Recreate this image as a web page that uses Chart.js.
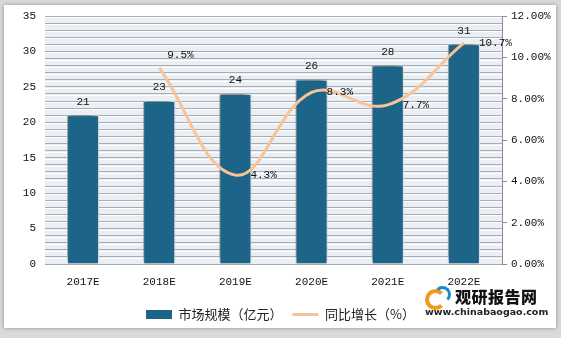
<!DOCTYPE html>
<html>
<head>
<meta charset="utf-8">
<script src="https://cdn.jsdelivr.net/npm/chart.js@4/dist/chart.umd.min.js"></script>
<style>
  html, body { margin: 0; padding: 0; }
  body { width: 561px; height: 338px; background: #d9d9d9; position: relative; overflow: hidden; }
  #card { position: absolute; left: 4px; top: 5px; width: 552px; height: 323px; background: #fff; box-shadow: 0 0 4px rgba(0,0,0,0.35); }
  #wrap { position: absolute; left: 0; top: 0; width: 561px; height: 338px; }
  #mark { position: absolute; left: 425px; top: 285px; width: 130px; height: 36px; font-family: "Noto Sans CJK SC", sans-serif; white-space: nowrap; }
  #mark .logo { position: absolute; left: 0; top: 1px; width: 26px; height: 20px; }
  #mark .logo i { position: absolute; border-radius: 50%; border-style: solid; }
  #mark .cn { position: absolute; left: 30px; top: 0; font-size: 16px; font-weight: 900; color: #111; letter-spacing: 0.5px; line-height: 22px; }
  #mark .en { position: absolute; left: 0; top: 21px; font-size: 9.5px; font-weight: 700; color: #222; font-family: "DejaVu Sans", sans-serif; line-height: 12px; }
</style>
</head>
<body>
<div id="card"></div>
<div id="wrap"><canvas id="marketChart" width="561" height="338"></canvas></div>
<div id="mark">
  <div class="logo">
    <i style="left:0;top:3px;width:13px;height:13px;border-width:4px;border-color:#f39a1e transparent #f39a1e #f39a1e;"></i>
    <i style="left:9px;top:0;width:11px;height:11px;border-width:3px;border-color:#1a8ad0 #1a8ad0 transparent transparent;"></i>
  </div>
  <div class="cn">观研报告网</div>
  <div class="en">www.chinabaogao.com</div>
</div>
<script>
// 数据
const years = ['2017E', '2018E', '2019E', '2020E', '2021E', '2022E'];
const marketSize = [21, 23, 24, 26, 28, 31];           // 市场规模（亿元）
const growthRate = [null, 9.5, 4.3, 8.3, 7.7, 10.7];   // 同比增长（%）

const numFont = { family: '"Liberation Mono", "DejaVu Sans Mono", monospace', size: 11 };

// 绘图区背景 + 白色网格高光 + 柱阴影 + 数值标签
const decorPlugin = {
    id: 'decor',
    beforeDraw(chart) {
        const { ctx, chartArea: a } = chart;
        ctx.save();
        ctx.fillStyle = '#e9eff5';
        ctx.fillRect(a.left, a.top, a.right - a.left, a.bottom - a.top);
        const y = chart.scales.y;
        ctx.strokeStyle = '#ffffff';
        ctx.lineWidth = 1;
        y.ticks.forEach(t => {
            const py = Math.round(y.getPixelForValue(t.value)) + 1.5;
            if (py < a.bottom) {
                ctx.beginPath();
                ctx.moveTo(a.left, py);
                ctx.lineTo(a.right, py);
                ctx.stroke();
            }
        });
        ctx.restore();
    },
    beforeDatasetDraw(chart, args) {
        if (args.index === 0) {
            const ctx = chart.ctx;
            ctx.save();
            ctx.shadowColor = 'rgba(0,0,0,0.6)';
            ctx.shadowBlur = 7;
            ctx.shadowOffsetX = -2;
            ctx.shadowOffsetY = -3;
        }
    },
    afterDatasetDraw(chart, args) {
        if (args.index === 0) chart.ctx.restore();
    },
    afterDatasetsDraw(chart) {
        const ctx = chart.ctx;
        ctx.save();
        ctx.font = numFont.size + 'px ' + numFont.family;
        ctx.fillStyle = '#111';
        chart.getDatasetMeta(0).data.forEach((bar, i) => {
            ctx.textAlign = 'center';
            ctx.textBaseline = 'bottom';
            ctx.fillText(String(marketSize[i]), bar.x, bar.y - 8);
        });
        chart.getDatasetMeta(1).data.forEach((pt, i) => {
            if (growthRate[i] == null) return;
            ctx.textBaseline = 'middle';
            ctx.textAlign = 'left';
            if (i === 1) {
                ctx.fillText(growthRate[i].toFixed(1) + '%', pt.x + 8, pt.y - 13);
            } else {
                ctx.fillText(growthRate[i].toFixed(1) + '%', pt.x + 15, pt.y);
            }
        });
        ctx.restore();
    }
};

const ctx = document.getElementById('marketChart').getContext('2d');
const marketChart = new Chart(ctx, {
    data: {
        labels: years,
        datasets: [{
            type: 'bar',
            label: '市场规模（亿元）',
            data: marketSize,
            backgroundColor: '#1c6588',
            borderColor: '#ffffff',
            borderWidth: 1,
            barPercentage: 0.42,
            categoryPercentage: 1,
            yAxisID: 'y',
            order: 2
        }, {
            type: 'line',
            label: '同比增长（%）',
            data: growthRate,
            borderColor: '#f9c398',
            backgroundColor: '#f9c398',
            borderWidth: 3,
            tension: 0.4,
            pointRadius: 0,
            spanGaps: false,
            yAxisID: 'y1',
            order: 1
        }]
    },
    options: {
        responsive: false,
        animation: false,
        devicePixelRatio: 1,
        layout: { padding: { top: 16, left: 0, right: 0, bottom: 7 } },
        scales: {
            x: {
                grid: { display: false },
                border: { display: true, color: '#a6a6a6' },
                ticks: { color: '#111', font: numFont, padding: 3 },
                afterFit(scale) { scale.height = 34; }
            },
            y: {
                min: 0,
                max: 35,
                position: 'left',
                grid: { color: '#a9adb1', lineWidth: 1, drawTicks: false },
                border: { display: false },
                ticks: {
                    stepSize: 1,
                    autoSkip: false,
                    maxTicksLimit: 50,
                    padding: 9,
                    color: '#111',
                    font: numFont,
                    callback: v => (v % 5 === 0 ? String(v) : ' ')
                },
                afterFit(scale) { scale.width = 45; }
            },
            y1: {
                min: 0,
                max: 12,
                position: 'right',
                grid: { drawOnChartArea: false, color: '#8c8c8c', tickLength: 5 },
                border: { display: true, color: '#8c8c8c' },
                ticks: {
                    stepSize: 2,
                    padding: 4,
                    color: '#111',
                    font: numFont,
                    callback: v => v.toFixed(2) + '%'
                },
                afterFit(scale) { scale.width = 59; }
            }
        },
        plugins: {
            legend: {
                position: 'bottom',
                labels: {
                    usePointStyle: true,
                    pointStyleWidth: 26,
                    boxHeight: 9,
                    padding: 10,
                    color: '#222',
                    font: { family: '"Noto Sans CJK SC", sans-serif', size: 13 },
                    generateLabels(chart) {
                        return chart.data.datasets.map((ds, i) => ({
                            text: ds.label,
                            datasetIndex: i,
                            fillStyle: ds.backgroundColor,
                            strokeStyle: i === 0 ? ds.backgroundColor : ds.borderColor,
                            lineWidth: i === 0 ? 0 : 3,
                            pointStyle: i === 0 ? 'rect' : 'line',
                            fontColor: '#222'
                        }));
                    }
                }
            },
            tooltip: { enabled: false }
        }
    },
    plugins: [decorPlugin]
});
</script>
</body>
</html>
